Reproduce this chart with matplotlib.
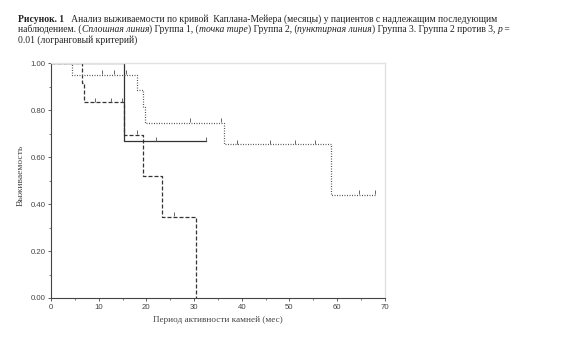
import numpy as np
import matplotlib
matplotlib.use("Agg")
import matplotlib.pyplot as plt

# Kaplan-Meier steps
g1_t = [0, 15.3, 32.5]
g1_s = [1.0, 0.667, 0.667]
g1_cens = [22.0, 32.5]

g2_t = [0, 6.4, 7.0, 15.3, 19.2, 23.2, 30.4]
g2_s = [1.0, 0.917, 0.833, 0.694, 0.52, 0.347, 0.0]
g2_cens = [9.2, 12.5, 14.8, 18.0, 25.8]

g3_t = [0, 4.5, 18.0, 19.3, 19.7, 36.3, 58.7, 68.0]
g3_s = [1.0, 0.95, 0.885, 0.814, 0.746, 0.654, 0.44, 0.44]
g3_cens = [10.6, 13.3, 15.7, 29.2, 35.6, 38.9, 45.9, 51.2, 55.3, 64.6, 68.0]

x_ticks = [0, 10, 20, 30, 40, 50, 60, 70]
y_ticks = [0.0, 0.2, 0.4, 0.6, 0.8, 1.0]

serif = "Liberation Serif"
sans = "Liberation Sans"

fig = plt.figure(figsize=(5.63, 3.51), dpi=100)
ax = fig.add_axes([0.0906, 0.151, 0.593, 0.669])


def step_at(t, s, x):
    i = np.searchsorted(t, x, side="right") - 1
    return np.asarray(s)[i]


groups = [
    (g1_t, g1_s, g1_cens, dict(color="#333333", ls="-", lw=0.9)),
    (g2_t, g2_s, g2_cens, dict(color="#333333", ls=(0, (3.2, 1.6)), lw=0.9)),
    (g3_t, g3_s, g3_cens, dict(color="#555555", ls=(0, (0.8, 1.2)), lw=0.9)),
]
for t, s, cens, style in groups:
    ax.step(t, s, where="post", **style)
    cy = step_at(t, s, cens) + 0.012
    ax.plot(cens, cy, ls="none", marker="|", ms=3, mew=0.7, color="#666666")

ax.set_xlim(0, 70)
ax.set_ylim(0, 1.0)
ax.set_xticks(x_ticks)
ax.set_xticks(np.arange(5, 70, 10), minor=True)
ax.set_yticks(y_ticks)
ax.set_yticks(np.arange(0.1, 1.0, 0.2), minor=True)
ax.set_yticklabels(["%.2f" % v for v in y_ticks], fontfamily=sans, fontsize=5.6, color="#444444")
ax.set_xticklabels([str(v) for v in x_ticks], fontfamily=sans, fontsize=5.6, color="#444444")
ax.tick_params(which="major", length=2.5, width=0.6, color="#444444", pad=1.5)
ax.tick_params(which="minor", length=1.5, width=0.5, color="#444444")

for side in ["left", "bottom"]:
    ax.spines[side].set_color("#444444")
    ax.spines[side].set_linewidth(0.8)
for side in ["top", "right"]:
    ax.spines[side].set_color("#e2e2e2")
    ax.spines[side].set_linewidth(1.0)

ax.set_ylabel("Выживаемость", fontfamily=serif, fontsize=6.8, color="#444444")
ax.yaxis.set_label_coords(-0.078, 0.52)
ax.set_xlabel("Период активности камней (мес)", fontfamily=serif, fontsize=6.6, color="#444444", labelpad=4)

# caption above the chart, pieced together from runs of text
caption = [
    [("Рисунок. 1", "bold", "normal"),
     ("   Анализ выживаемости по кривой  Каплана-Мейера (месяцы) у пациентов с надлежащим последующим", "normal", "normal")],
    [("наблюдением. (", "normal", "normal"), ("Сплошная линия", "normal", "italic"),
     (") Группа 1, (", "normal", "normal"), ("точка тире", "normal", "italic"),
     (") Группа 2, (", "normal", "normal"), ("пунктирная линия", "normal", "italic"),
     (") Группа 3. Группа 2 против 3, ", "normal", "normal"), ("p", "normal", "italic"),
     (" =", "normal", "normal")],
    [("0.01 (логранговый критерий)", "normal", "normal")],
]
renderer = fig.canvas.get_renderer()
y0 = 351 - 21.5
for line in caption:
    x0 = 18
    for txt, weight, style in line:
        t = fig.text(x0 / 563, y0 / 351, txt, fontfamily=serif, fontsize=6.9,
                     fontweight=weight, fontstyle=style, color="#222222", va="baseline")
        x0 += t.get_window_extent(renderer).width
    y0 -= 10.5

fig.savefig("out.png", dpi=100)
